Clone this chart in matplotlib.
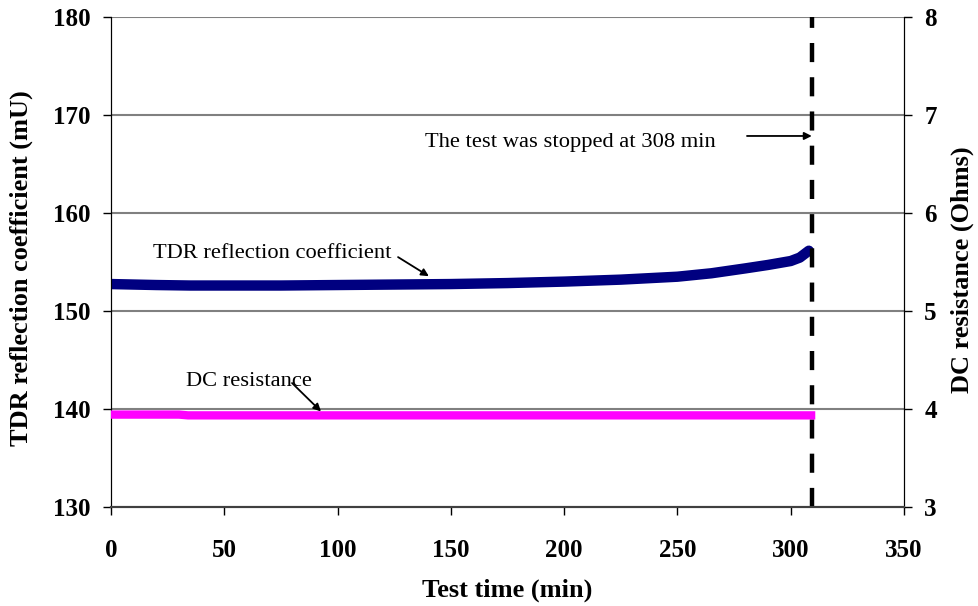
import matplotlib
matplotlib.use("Agg")
import matplotlib.pyplot as plt

# ---- data ----
tdr_time = [0, 10, 20, 35, 50, 75, 100, 125, 150, 175, 200, 225, 250, 265, 280, 290, 300, 304, 308]
tdr_coef = [152.75, 152.7, 152.65, 152.6, 152.6, 152.6, 152.65, 152.7, 152.75, 152.85, 153.0, 153.2,
            153.5, 153.85, 154.35, 154.7, 155.1, 155.45, 156.15]
dc_time = [0, 30, 34, 100, 200, 309]
dc_res = [3.943, 3.943, 3.935, 3.935, 3.935, 3.935]
stop_time = 309.5

xticks = [0, 50, 100, 150, 200, 250, 300, 350]
yticks_left = [130, 140, 150, 160, 170, 180]
yticks_right = [3, 4, 5, 6, 7, 8]

plt.rcParams['font.family'] = ['Liberation Serif', 'DejaVu Serif']

fig = plt.figure(figsize=(9.79, 6.06), dpi=100)
ax = fig.add_axes([111/979, 1-507/606, 793/979, 490/606])
ax2 = ax.twinx()

ax.set_xlim(0, 350)
ax.set_ylim(130, 180)
ax2.set_ylim(3, 8)
ax.set_xticks(xticks)
ax.set_yticks(yticks_left)
ax2.set_yticks(yticks_right)

for y in yticks_left[1:]:
    ax.axhline(y, color='#808080', lw=1.5, zorder=1)

ax.plot(tdr_time, tdr_coef, color='#000080', lw=7.5, solid_capstyle='round', zorder=3)
ax2.plot(dc_time, dc_res, color='#FF00FF', lw=6, solid_capstyle='projecting', zorder=3)
ax.axvline(stop_time, color='black', lw=3.2, dashes=(4.3, 3.4), zorder=4)

for a in (ax, ax2):
    a.spines['top'].set_visible(False)
    a.spines['left'].set_color('black')
    a.spines['right'].set_color('black')
    a.spines['bottom'].set_color('#404040')
    a.spines['bottom'].set_linewidth(1.5)

ax.tick_params(axis='x', direction='out', length=6, width=1, pad=17, labelsize=18)
ax.tick_params(axis='y', direction='out', length=6, width=1, pad=9, labelsize=18)
ax2.tick_params(axis='y', direction='out', length=6, width=1, pad=8.5, labelsize=18)
for lab in ax.get_xticklabels() + ax.get_yticklabels() + ax2.get_yticklabels():
    lab.set_fontweight('bold')

fig.text(507/979, 1-590/606, 'Test time (min)', ha='center', va='center', fontsize=19, fontweight='bold')
fig.text(21/979, 1-268/606, 'TDR reflection coefficient (mU)', ha='center', va='center',
         rotation=90, fontsize=19, fontweight='bold')
fig.text(962/979, 1-270/606, 'DC resistance (Ohms)', ha='center', va='center',
         rotation=90, fontsize=19, fontweight='bold')

arrow = dict(arrowstyle='-|>', color='black', lw=1.3, mutation_scale=11, shrinkA=0, shrinkB=0)
ax.text(18.5, 155.9, 'TDR reflection coefficient', fontsize=16.2, ha='left', va='center')
ax.annotate('', xy=(140.3, 153.55), xytext=(126.7, 155.5), arrowprops=arrow)
ax.text(33.1, 142.76, 'DC resistance', fontsize=16.2, ha='left', va='center')
ax.annotate('', xy=(92.7, 139.75), xytext=(79.9, 142.65), arrowprops=arrow)
ax.text(138.6, 167.24, 'The test was stopped at 308 min', fontsize=16.2, ha='left', va='center')
ax.annotate('', xy=(309.3, 167.86), xytext=(280.7, 167.86), arrowprops=arrow)

fig.savefig('out.png', dpi=100)
